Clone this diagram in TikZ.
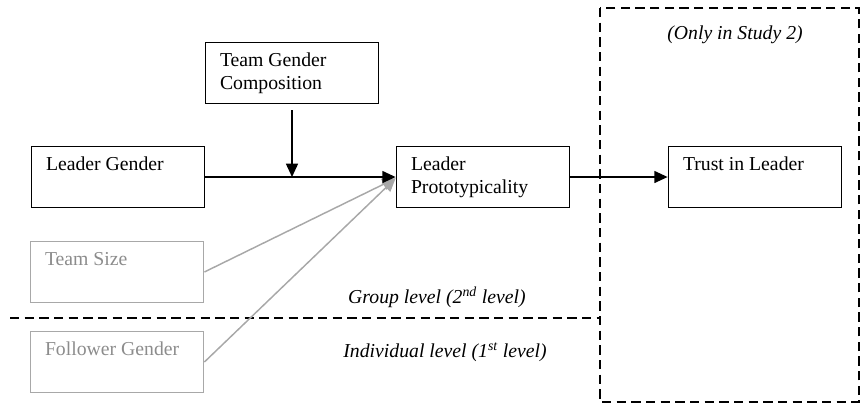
\documentclass[tikz,border=0pt]{standalone}
\usepackage{fontspec}
\setmainfont{Liberation Serif}
\usetikzlibrary{arrows.meta,positioning}
\definecolor{fadedtext}{HTML}{8C8C8C}
\definecolor{fadedline}{HTML}{A8A8A8}
\newcommand{\cell}[1]{\parbox[c][30pt][t]{108pt}{\raggedright #1}}

\begin{document}
\begin{tikzpicture}[x=0.75pt, y=-0.75pt, >={Triangle[length=10pt,width=9pt]},
  box/.style={draw, line width=1.1pt, inner xsep=11pt, inner ysep=8pt,
    font=\fontsize{14.8}{17}\selectfont},
  faded/.style={box, draw=fadedline, text=fadedtext},
  levellabel/.style={font=\fontsize{14.8}{17}\selectfont\itshape}]
  \useasboundingbox (0,0) rectangle (863,405);

  % Study 2 frame and level split
  \draw[line width=1.3pt, dash pattern=on 7pt off 4pt] (600,8) rectangle (859,402);
  \draw[line width=1.3pt, dash pattern=on 7pt off 4pt] (10,318) -- (600,318);

  % Boxes
  \node[box] (tgc) at (292,73) {\cell{Team Gender\\Composition}};
  \node[box] (lg) at (118,177) {\cell{Leader Gender}};
  \node[box] (lp) at (483,177) {\cell{Leader\\Prototypicality}};
  \node[box] (trust) at (755,177) {\cell{Trust in Leader}};
  \node[faded] (ts) at (117,272) {\cell{Team Size}};
  \node[faded] (fg) at (117,362) {\cell{Follower Gender}};

  % Labels
  \node[levellabel] (study) at (735,35) {(Only in Study 2)};
  \node[levellabel] (grp) at (437,297) {Group level (2\textsuperscript{nd} level)};
  \node[levellabel] (ind) at (445,352) {Individual level (1\textsuperscript{st} level)};

  % Paths
  \draw[->, fadedline, line width=1.1pt] (ts.east) -- ([yshift=-1pt]lp.west);
  \draw[->, fadedline, line width=1.1pt] (fg.east) -- ([yshift=-1pt]lp.west);
  \draw[->, line width=1.1pt] (lg) -- (lp);
  \draw[->, line width=1.1pt] ([yshift=-4.5pt]tgc.south) -- (tgc.south |- lg.east);
  \draw[->, line width=1.1pt] (lp) -- (trust);
\end{tikzpicture}
\end{document}
